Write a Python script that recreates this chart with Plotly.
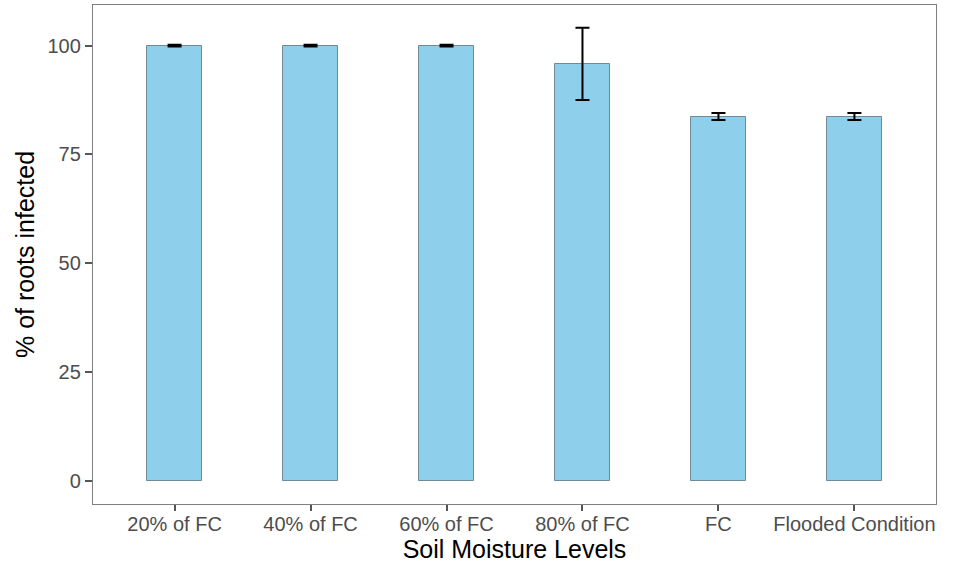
import plotly.graph_objects as go

categories = ["20% of FC", "40% of FC", "60% of FC", "80% of FC", "FC", "Flooded Condition"]
infected = [100.0, 100.0, 100.0, 95.8, 83.7, 83.7]
errors = [0.2, 0.2, 0.2, 8.3, 0.8, 0.8]
y_ticks = [0, 25, 50, 75, 100]

fig = go.Figure()
fig.add_trace(go.Bar(
    x=categories, y=infected, width=0.4,
    marker=dict(color="#8ED0EB", line=dict(color="#6F8A96", width=1)),
    error_y=dict(type="data", array=errors, visible=True, color="black", thickness=2, width=7),
))

fig.update_layout(
    width=955, height=567,
    margin=dict(l=93, r=19, t=5, b=63, autoexpand=False),
    paper_bgcolor="white", plot_bgcolor="white",
    font=dict(family="Liberation Sans, Arial, sans-serif"),
    showlegend=False,
    bargap=0,
)
fig.update_xaxes(
    range=[-0.6, 5.6], showgrid=False, zeroline=False, automargin=False,
    showline=True, linecolor="#7F7F7F", linewidth=1.3, mirror=True,
    ticks="outside", ticklen=6, tickcolor="#555555", tickwidth=1.5,
    ticklabelstandoff=-4,
    tickfont=dict(size=20, color="#4D4D4D"),
    title=dict(text="Soil Moisture Levels", font=dict(size=25, color="black"), standoff=4),
)
fig.update_yaxes(
    range=[-5.2, 109.3], showgrid=False, zeroline=False, automargin=False,
    showline=True, linecolor="#7F7F7F", linewidth=1.3, mirror=True,
    ticks="outside", ticklen=7, tickcolor="#555555", tickwidth=1.5,
    tickvals=y_ticks, ticktext=[str(v) for v in y_ticks],
    tickfont=dict(size=20, color="#4D4D4D"),
    title=dict(text="% of roots infected", font=dict(size=25, color="black"), standoff=5),
)

fig.write_html("out.html", config={"displayModeBar": False},
               post_script="document.body.style.margin='0';document.body.style.padding='0';")
